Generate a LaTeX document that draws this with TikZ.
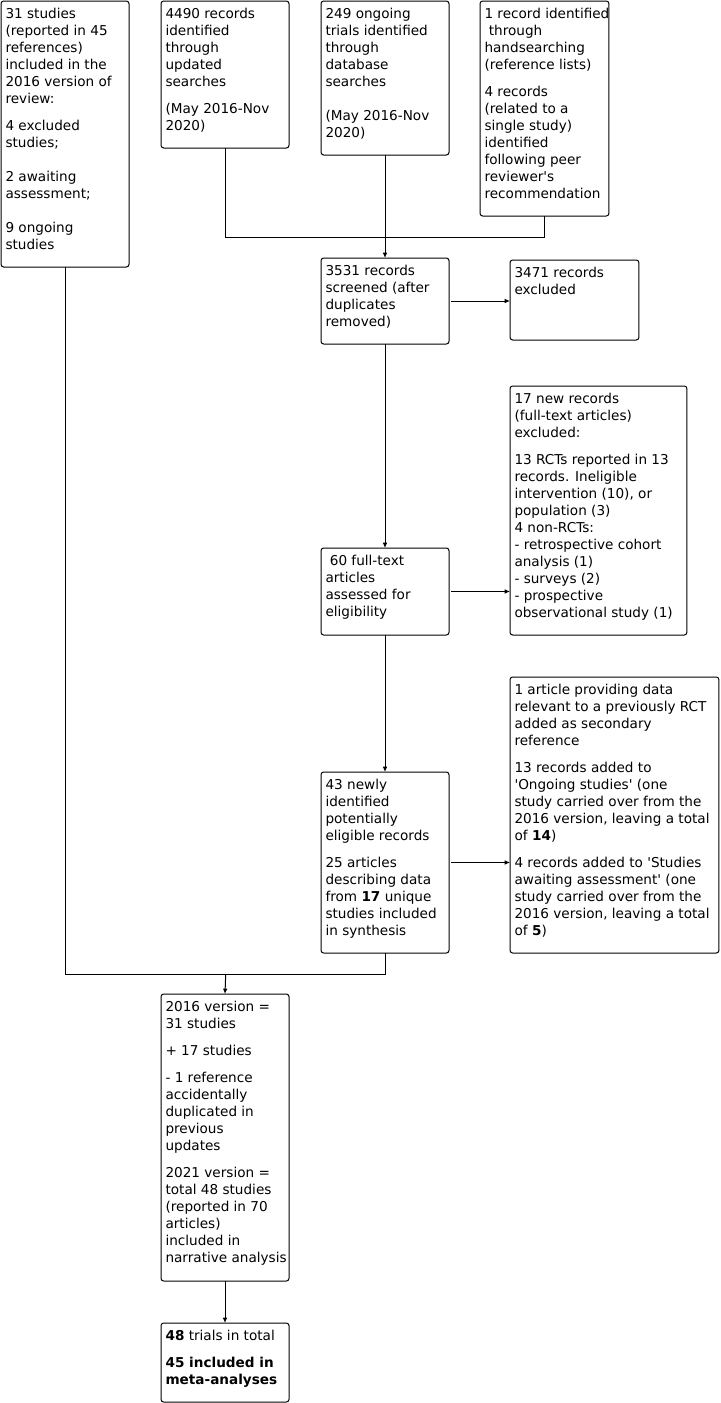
\documentclass[tikz,border=0pt]{standalone}
\usepackage{fontspec}
\setmainfont{DejaVu Sans}
\usepackage{tikz}
\usetikzlibrary{arrows.meta}
% text of a box: width, height, contents (top aligned)
\newcommand{\boxtext}[3]{\parbox[t][#2][t]{#1}{\raggedright\hyphenpenalty=10000\exhyphenpenalty=10000\setlength{\parskip}{7.5pt}\rule{0pt}{13pt}#3}}
\newcommand{\q}{\textquotesingle}

\begin{document}
\begin{tikzpicture}[x=0.75pt,y=-0.75pt,
  flow/.style={draw,line width=0.75pt,rounded corners=2pt,anchor=north west,inner xsep=3.4pt,inner ysep=0pt,outer sep=0pt,align=left,font=\fontsize{10.2pt}{12.75pt}\selectfont},
  arr/.style={-{Latex[length=4pt,width=3.5pt]},line width=0.75pt},
  lnk/.style={line width=0.75pt}]
\useasboundingbox (0,0) rectangle (721,1403);
\node[flow] (base) at (1,1) {\boxtext{89.2pt}{199.5pt}{31 studies\\(reported in 45\\references)\\included in the\\2016 version of\\review:

4 excluded\\studies;\\[12.75pt]2 awaiting\\assessment;\\[12.75pt]9 ongoing\\studies}};
\node[flow] (upd) at (161,1) {\boxtext{89.2pt}{110.25pt}{4490 records\\identified\\through\\updated\\searches

(May 2016-Nov\\2020)}};
\node[flow] (trials) at (321,1) {\boxtext{89.2pt}{115.5pt}{249 ongoing\\trials identified\\through\\database\\searches\\[12.75pt](May 2016-Nov\\2020)}};
\node[flow] (hand) at (480,1) {\boxtext{89.9pt}{161.25pt}{\mbox{1 record identified}\\\hspace*{0.32em}through\\handsearching\\(reference lists)

4 records\\(related to a\\single study)\\identified\\following peer\\reviewer\q s\\recommendation}};
\node[flow] (screen) at (321,258) {\boxtext{89.2pt}{64.5pt}{3531 records\\screened (after\\duplicates\\removed)}};
\node[flow] (excl) at (510,260) {\boxtext{89.9pt}{60pt}{3471 records\\excluded}};
\node[flow] (full) at (321,548) {\boxtext{89.2pt}{65.25pt}{\hspace*{0.32em}60 full-text\\articles\\assessed for\\eligibility}};
\node[flow] (fullex) at (510,386) {\boxtext{125.9pt}{186.75pt}{17 new records\\(full-text articles)\\excluded:

13 RCTs reported in 13\\records. Ineligible\\intervention (10), or\\population (3)\\4 non-RCTs:\\- retrospective cohort\\analysis (1)\\- surveys (2)\\- prospective\\observational study (1)}};
\node[flow] (elig) at (321,772) {\boxtext{89.2pt}{135.75pt}{43 newly\\identified\\potentially\\eligible records

25 articles\\describing data\\from \textbf{17} unique\\studies included\\in synthesis}};
\node[flow] (added) at (510,677) {\boxtext{149.9pt}{207pt}{1 article providing data\\relevant to a previously RCT\\added as secondary\\reference

13 records added to\\\q Ongoing studies\q{} (one\\study carried over from the\\2016 version, leaving a total\\of \textbf{14})

4 records added to \q Studies\\awaiting assessment\q{} (one\\study carried over from the\\2016 version, leaving a total\\of \textbf{5})}};
\node[flow] (total) at (161,994) {\boxtext{89.2pt}{215.25pt}{2016 version =\\31 studies

+ 17 studies

- 1 reference\\accidentally\\duplicated in\\previous\\updates

2021 version =\\total 48 studies\\(reported in 70\\articles)\\included in\\\mbox{narrative analysis}}};
\node[flow] (meta) at (161,1323) {\boxtext{89.2pt}{59.25pt}{\textbf{48} trials in total

\textbf{45 included in\\meta-analyses}}};
\coordinate (merge) at (385.7,237);
\coordinate (join) at (225.7,974);
\draw[lnk] (upd.south) |- (merge);
\draw[lnk] (hand.south) |- (merge);
\draw[arr] (trials.south) -- (screen.north);
\draw[arr] (screen.east) ++(2,0) -- (screen.east -| excl.west);
\draw[arr] (screen.south) -- (full.north);
\draw[arr] (full.east) ++(2,0) -- (full.east -| fullex.west);
\draw[arr] (full.south) -- (elig.north);
\draw[arr] (elig.east) ++(2,0) -- (elig.east -| added.west);
\draw[lnk] (base.south) |- (join);
\draw[lnk] (elig.south) |- (join);
\draw[arr] (join) -- (total.north);
\draw[arr] (total.south) -- (meta.north);
\end{tikzpicture}
\end{document}
